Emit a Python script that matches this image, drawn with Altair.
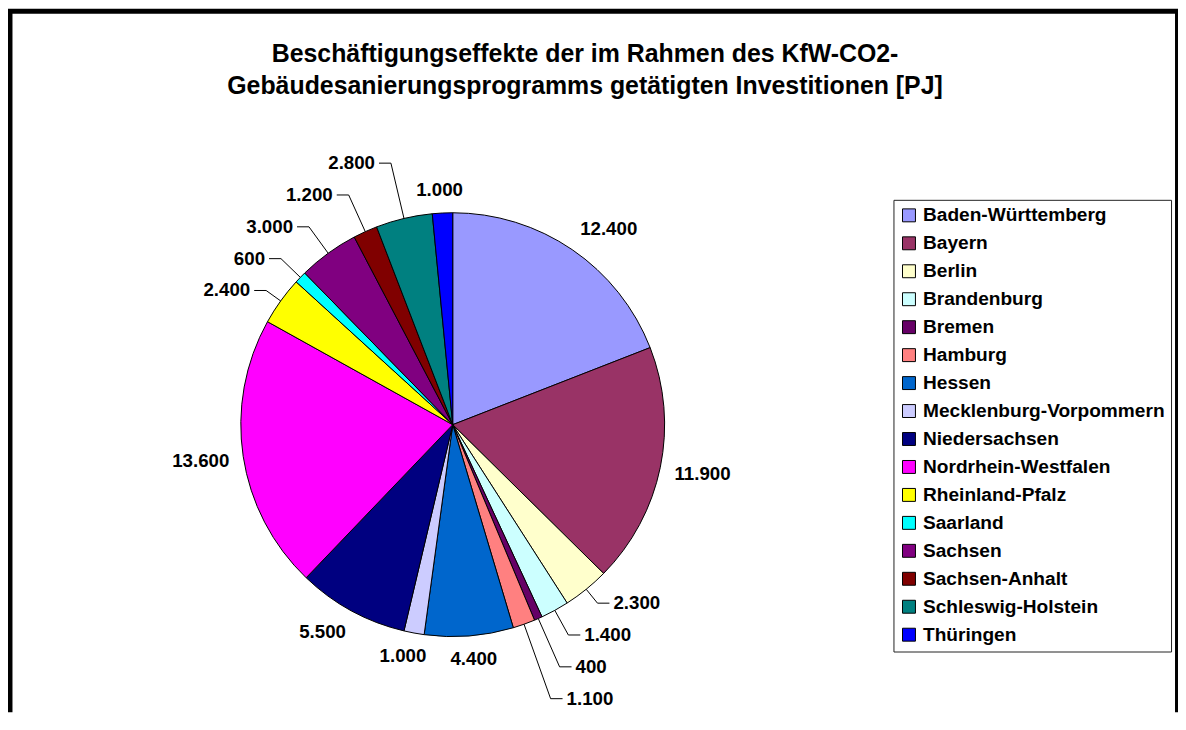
import math
import altair as alt
import pandas as pd

# ---------------- data ----------------
states = ["Baden-Württemberg", "Bayern", "Berlin", "Brandenburg", "Bremen",
          "Hamburg", "Hessen", "Mecklenburg-Vorpommern", "Niedersachsen",
          "Nordrhein-Westfalen", "Rheinland-Pfalz", "Saarland", "Sachsen",
          "Sachsen-Anhalt", "Schleswig-Holstein", "Thüringen"]
values = [12400, 11900, 2300, 1400, 400, 1100, 4400, 1000, 5500, 13600,
          2400, 600, 3000, 1200, 2800, 1000]
labels = ["12.400", "11.900", "2.300", "1.400", "400", "1.100", "4.400",
          "1.000", "5.500", "13.600", "2.400", "600", "3.000", "1.200",
          "2.800", "1.000"]
colors = ["#9999FF", "#993366", "#FFFFCC", "#CCFFFF", "#660066", "#FF8080",
          "#0066CC", "#CCCCFF", "#000080", "#FF00FF", "#FFFF00", "#00FFFF",
          "#800080", "#800000", "#008080", "#0000FF"]
title_lines = ["Beschäftigungseffekte der im Rahmen des KfW-CO2-",
               "Gebäudesanierungsprogramms getätigten Investitionen [PJ]"]

# ---------------- layout ----------------
FONT = "Liberation Sans"
W, H = 1176, 706
CX, CY, R = 447, 417, 213
FS_LABEL = 18.8
FS_LEGEND = 19.2
FS_TITLE = 25


def text_width(s, fs):
    return sum(0.278 if ch == "." else 0.556 for ch in s) * fs


def clamp(v):
    return max(-1.0, min(1.0, v))


total = float(sum(values))
rows = []
cum = 0.0
for i, (s, v, l) in enumerate(zip(states, values, labels)):
    a = 2 * math.pi * (cum + v / 2.0) / total
    cum += v
    ux, uy = math.sin(a), -math.cos(a)
    rows.append(dict(idx=i, state=s, value=v, label=l, ux=ux, uy=uy,
                     share=v / total, w=text_width(l, FS_LABEL),
                     leader=(v / total < 0.05 and abs(ux) > 0.2)))

# default (no leader) label positions
for r in rows:
    if not r["leader"]:
        ax = CX + r["ux"] * (R + 14)
        ay = CY + r["uy"] * (R + 14)
        r["lx"] = ax + r["w"] / 2 * clamp(2 * r["ux"])
        r["ly"] = ay + FS_LABEL / 2 * clamp(2 * r["uy"])

# leader labels: group consecutive ones, spread them away from the equator
clusters, cur = [], []
for r in rows:
    if r["leader"]:
        if cur and (cur[-1]["idx"] != r["idx"] - 1 or (cur[-1]["ux"] > 0) != (r["ux"] > 0)):
            clusters.append(cur)
            cur = []
        cur.append(r)
    else:
        if cur:
            clusters.append(cur)
        cur = []
if cur:
    clusters.append(cur)

lead_rows = []
for cl in clusters:
    for r in cl:
        r["d"] = abs(r["uy"] * (R + 18))
    prev = None
    for r in sorted(cl, key=lambda q: q["d"]):
        d = r["d"]
        if prev is not None and d < prev + 32:
            d = prev + 32
        prev = d
        rad = d / abs(r["uy"])
        ex, ey = CX + r["ux"] * rad, CY + r["uy"] * rad
        sgn = 1 if r["ux"] > 0 else -1
        r["lx"] = ex + sgn * (16 + r["w"] / 2)
        r["ly"] = ey
        pts = [(CX + r["ux"] * R, CY + r["uy"] * R), (ex, ey), (ex + sgn * 12, ey)]
        for k, (px, py) in enumerate(pts):
            lead_rows.append(dict(state=r["state"], pt=k, x=px, y=py))

df = pd.DataFrame([{k: r[k] for k in ("idx", "state", "value", "label", "lx", "ly")} for r in rows])
lead_df = pd.DataFrame(lead_rows)

xs = alt.Scale(domain=[0, W], range=[0, W], nice=False, zero=False)
ys = alt.Scale(domain=[0, H], range=[0, H], nice=False, zero=False)

pie = alt.Chart(df).mark_arc(outerRadius=R, stroke="black", strokeWidth=1).encode(
    theta=alt.Theta("value:Q", stack=True),
    order=alt.Order("idx:Q"),
    color=alt.Color(
        "state:N",
        scale=alt.Scale(domain=states, range=colors),
        legend=alt.Legend(
            title=None, orient="none", legendX=890, legendY=191,
            symbolType="square", symbolSize=169, symbolStrokeColor="black",
            symbolStrokeWidth=1, symbolOpacity=1,
            labelFont=FONT, labelFontSize=FS_LEGEND, labelFontWeight="bold",
            labelColor="black", labelLimit=400, labelOffset=4.5,
            rowPadding=8.1, padding=6, strokeColor="#222222", fillColor="white",
        ),
    ),
    x=alt.XDatum(CX, type="quantitative", scale=xs, axis=None),
    y=alt.YDatum(CY, type="quantitative", scale=ys, axis=None),
)

leaders = alt.Chart(lead_df).mark_line(color="black", strokeWidth=1).encode(
    x=alt.X("x:Q", scale=xs, axis=None),
    y=alt.Y("y:Q", scale=ys, axis=None),
    detail="state:N",
    order="pt:Q",
)

value_labels = alt.Chart(df).mark_text(
    font=FONT, fontSize=FS_LABEL, fontWeight="bold", color="black",
    align="center", baseline="middle",
).encode(
    x=alt.X("lx:Q", scale=xs, axis=None),
    y=alt.Y("ly:Q", scale=ys, axis=None),
    text="label:N",
)

title = alt.Chart(pd.DataFrame({"t": ["\n".join(title_lines)]})).mark_text(
    font=FONT, fontSize=FS_TITLE, fontWeight="bold", color="black",
    align="center", baseline="alphabetic", lineBreak="\n", lineHeight=32.7,
).encode(x=alt.value(580), y=alt.value(52), text="t:N")

one = alt.Data(values=[{}])
frame_left = alt.Chart(one).mark_rule(color="black", strokeWidth=5).encode(
    x=alt.value(2), y=alt.value(0), y2=alt.value(H))
frame_top = alt.Chart(one).mark_rule(color="black", strokeWidth=5).encode(
    x=alt.value(0), x2=alt.value(W), y=alt.value(1.5))
frame_right = alt.Chart(one).mark_rule(color="black", strokeWidth=5).encode(
    x=alt.value(W - 0.5), y=alt.value(0), y2=alt.value(H))

chart = alt.layer(pie, leaders, value_labels, title, frame_left, frame_top, frame_right).properties(
    width=W, height=H, padding=0, autosize=alt.AutoSizeParams(type="none"),
).configure_view(stroke=None)

chart.save("out.html", embed_options={"renderer": "svg", "actions": False})
